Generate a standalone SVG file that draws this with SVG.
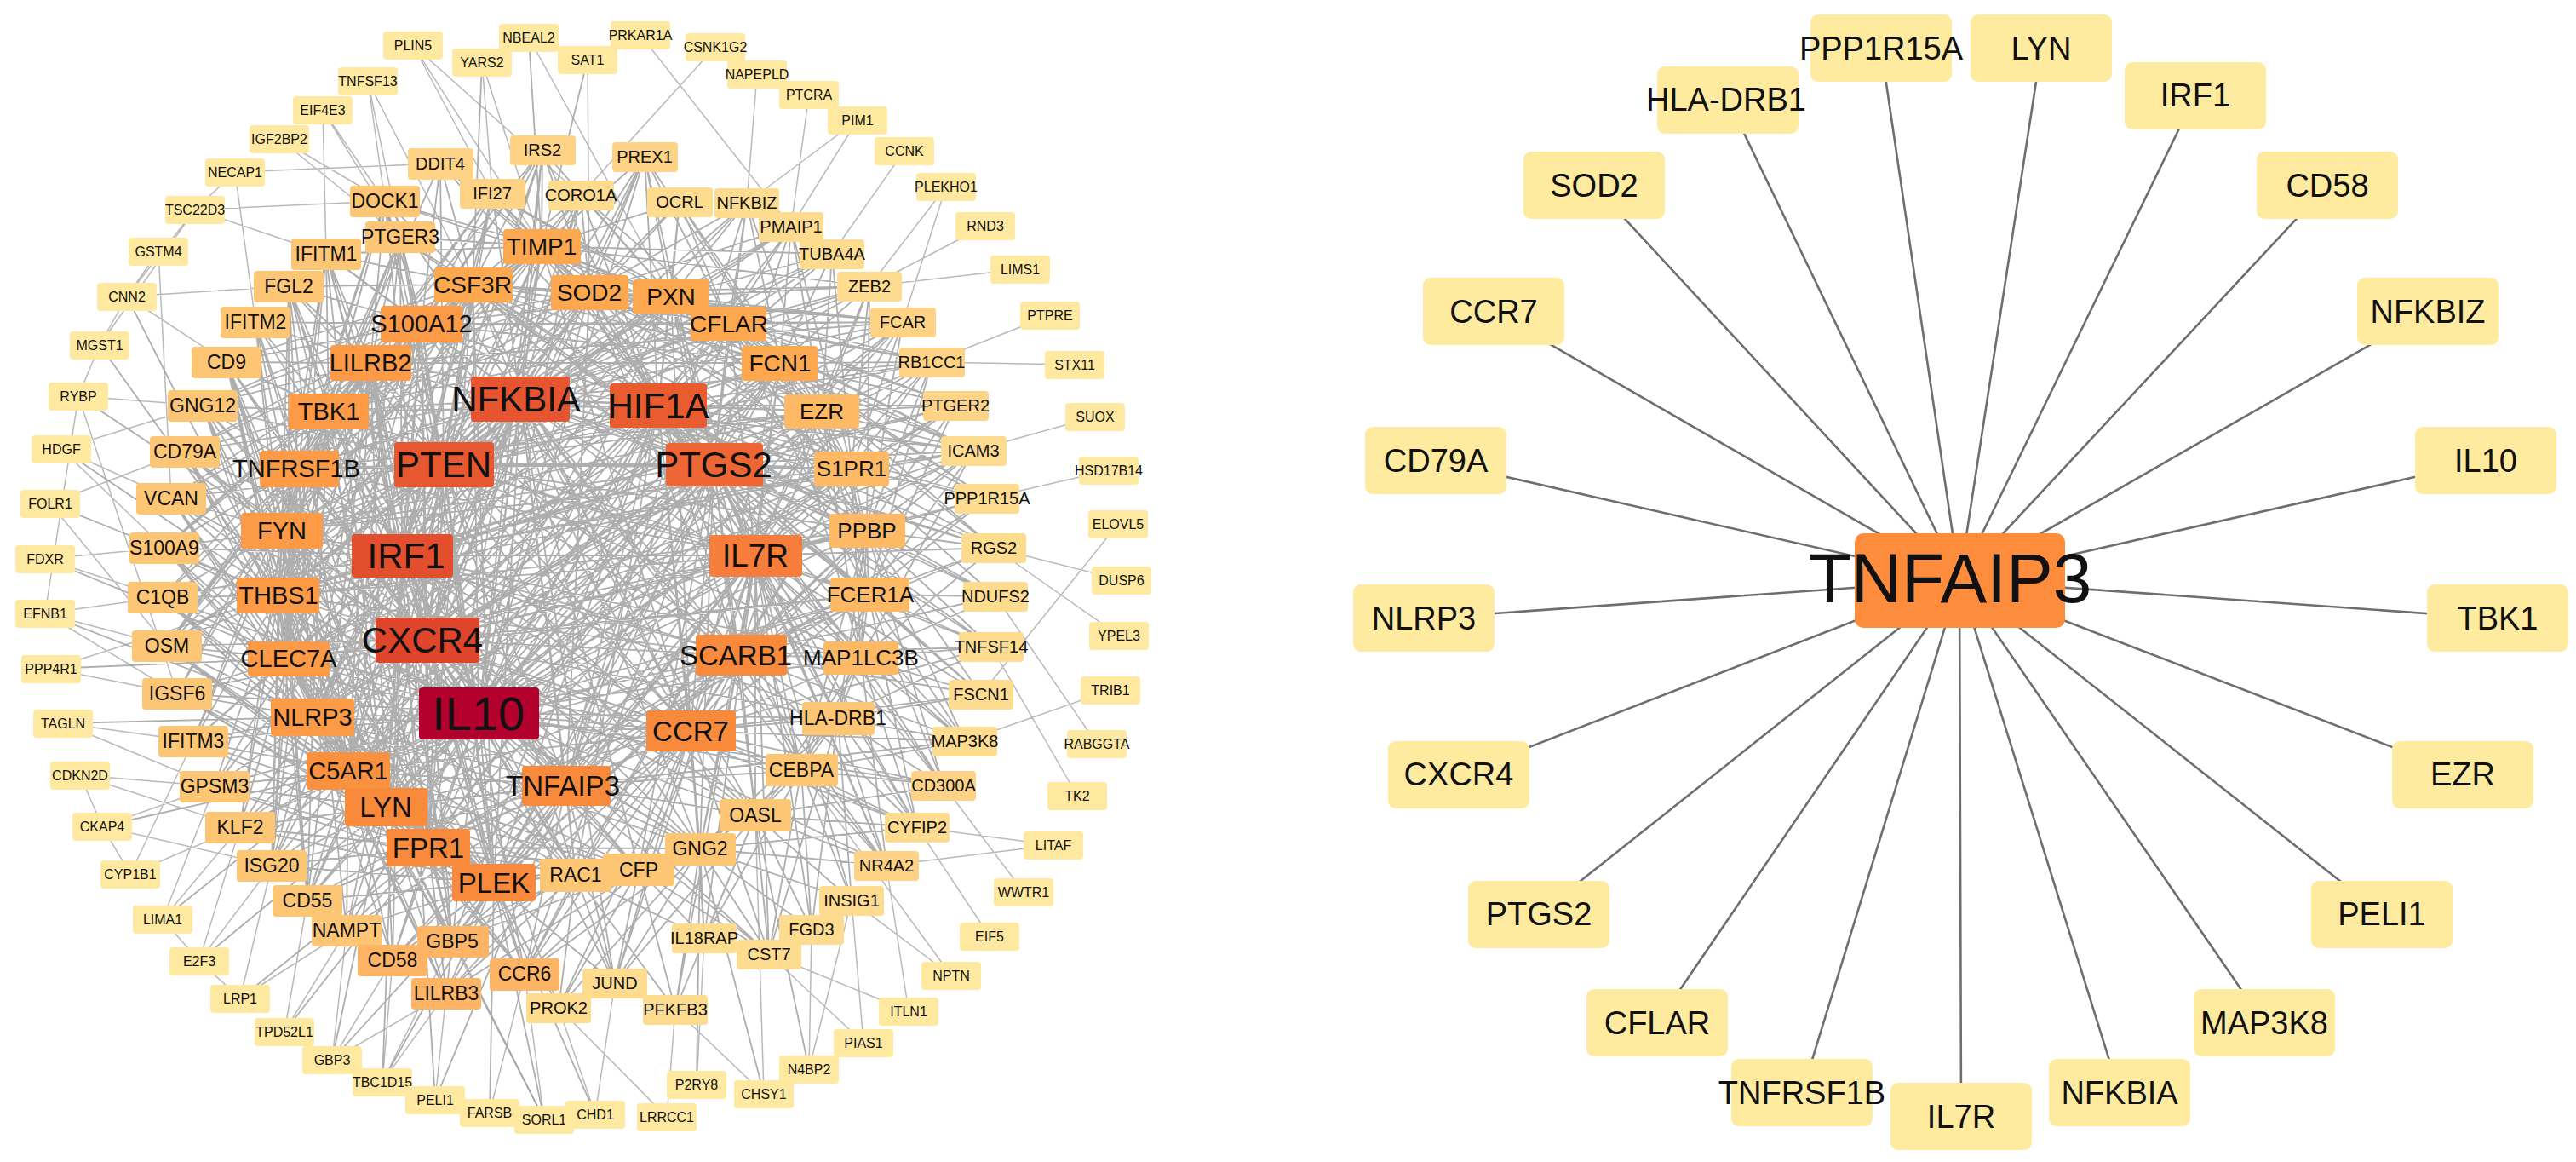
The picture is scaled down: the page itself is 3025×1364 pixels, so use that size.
<svg xmlns="http://www.w3.org/2000/svg" width="3025" height="1364" viewBox="0 0 3025 1364">
<style>
text{font-family:"Liberation Sans",Arial,sans-serif;text-anchor:middle;dominant-baseline:central;fill:#111}
rect{rx:4px}
.A rect{fill:#FFE9A0}.A text{font-size:16px}
.B rect{fill:#FEDC8F}.B text{font-size:20px}
.B2 rect{fill:#FED385}.B2 text{font-size:20px}
.C rect{fill:#FDC674}.C text{font-size:23px}
.C2 rect{fill:#FDB565}.C2 text{font-size:23px}
.D rect{fill:#FDA84F}.D text{font-size:28px}
.D2 rect{fill:#FDB964}.D2 text{font-size:26px}
.E rect{fill:#FC9A45}.E text{font-size:29px}
.F rect{fill:#F98A3C}.F text{font-size:33px}
.G text{font-size:42px}
.R rect{fill:#FEEBA0;rx:9px}.R text{font-size:38px}
.e1{fill:none;stroke:#9a9a9a;stroke-opacity:.8;stroke-width:1.8}
.e2{fill:none;stroke:#a8a8a8;stroke-opacity:.8;stroke-width:1.5}
.e3{fill:none;stroke:#6e6e6e;stroke-width:2.6}
</style>
<rect x="0" y="0" width="3025" height="1364" fill="#ffffff" style="rx:0"/>
<g id="connectors">
<path class="e2" d="M485 53L682 229M485 53L578 227M485 53L636 289M432 95L470 278M432 95L452 236M432 95L555 334M379 129L383 298M379 129L470 278M379 129L452 236M328 163L452 236M328 163L470 278M276 202L517 192M276 202L300 378M276 202L229 246M229 246L452 236M229 246L383 298M229 246L149 348M186 295L149 348M186 295L201 585M149 348L117 405M149 348L339 336M149 348L266 425M117 405L92 465M117 405L229 246M92 465L53 720M92 465L238 476M92 465L208 814M72 527L201 585M72 527L193 643M72 527L238 476M59 591L196 758M59 591L217 530M53 656L193 643M53 656L191 701M53 720L191 701M53 720L196 758M53 720L208 814M60 785L208 814M60 785L327 699M74 849L227 870M74 849L252 923M94 910L252 923M94 910L282 971M94 910L120 970M120 970L153 1026M120 970L319 1016M120 970L252 923M153 1026L282 971M153 1026L227 870M191 1079L234 1128M191 1079L282 971M191 1079L252 923M234 1128L282 1172M234 1128L319 1016M234 1128L282 971M282 1172L319 1016M282 1172L407 1092M334 1211L361 1057M334 1211L407 1092M390 1244L407 1092M390 1244L461 1127M390 1244L524 1166M449 1270L524 1166M449 1270L461 1127M449 1270L531 1105M511 1291L524 1166M575 1306L616 1143M639 1314L616 1143M639 1314L531 1105M699 1308L656 1183M699 1308L722 1154M783 1311L656 1183M783 1311L793 1185M818 1273L827 1101M897 1284L793 1185M897 1284L887 957M950 1255L953 1091M950 1255L1000 1057M1014 1224L1000 1057M1014 1224L903 1120M1067 1187L1041 1016M1067 1187L903 1120M1117 1145L1000 1057M1117 1145L941 904M1162 1099L1077 971M1202 1047L1108 922M1237 992L1077 971M1237 992L1041 1016M1265 934L1164 759M1288 873L1169 700M1304 810L1133 870M1314 746L1167 643M1317 681L1167 643M1313 615L1152 815M1302 552L1159 585M1286 489L1143 529M1262 428L1094 425M1233 370L1094 425M1198 316L1021 336M1157 265L1021 336M1111 219L1021 336M1111 219L1060 378M1062 177L977 298M1007 141L929 266M1007 141L877 238M950 111L929 266M889 87L877 238M840 55L682 229M752 41L929 266M690 70L692 343M621 44L788 348M566 73L578 227M566 73L636 289"/>
<path class="e1" d="M562 837L502 751M562 837L472 652M562 837L521 545M562 837L611 468M562 837L773 476M562 837L838 545M562 837L887 652M562 837L868 769M562 837L811 858M562 837L665 922M562 837L580 1036M562 837L503 995M562 837L453 947M562 837L409 905M562 837L367 842M562 837L339 773M562 837L327 699M562 837L331 623M562 837L350 550M562 837L386 483M562 837L435 426M562 837L495 380M562 837L555 334M562 837L636 289M562 837L692 343M562 837L788 348M562 837L856 380M562 837L916 426M562 837L965 483M562 837L1000 550M562 837L1018 623M562 837L1020 698M562 837L1011 772M562 837L984 843M562 837L941 904M562 837L887 957M562 837L822 996M562 837L750 1021M562 837L676 1027M562 837L616 1143M562 837L524 1166M562 837L531 1105M562 837L461 1127M562 837L407 1092M562 837L361 1057M562 837L319 1016M562 837L282 971M562 837L252 923M562 837L227 870M562 837L208 814M562 837L196 758M562 837L191 701M562 837L193 643M562 837L201 585M562 837L217 530M562 837L238 476M562 837L266 425M562 837L383 298M562 837L470 278M562 837L452 236M562 837L637 176M562 837L682 229M562 837L757 184M562 837L1143 529M562 837L1122 476M562 837L1094 425M562 837L1060 378M562 837L903 1120M562 837L722 1154M562 837L1108 922
M502 751L472 652M502 751L521 545M502 751L611 468M502 751L773 476M502 751L838 545M502 751L887 652M502 751L868 769M502 751L811 858M502 751L665 922M502 751L580 1036M502 751L503 995M502 751L453 947M502 751L409 905M502 751L367 842M502 751L339 773M502 751L327 699M502 751L331 623M502 751L350 550M502 751L386 483M502 751L435 426M502 751L495 380M502 751L555 334M502 751L636 289M502 751L692 343M502 751L788 348M502 751L856 380M502 751L916 426M502 751L965 483M502 751L1000 550M502 751L1018 623M502 751L1020 698M502 751L984 843M502 751L941 904M502 751L822 996M502 751L750 1021M502 751L676 1027M502 751L616 1143M502 751L531 1105M502 751L361 1057M502 751L282 971M502 751L208 814M502 751L196 758M502 751L201 585M502 751L217 530M502 751L238 476M502 751L266 425M502 751L383 298M502 751L452 236M502 751L757 184M502 751L682 229M502 751L1143 529M502 751L1094 425M502 751L903 1120M502 751L1041 1016M502 751L1077 971M502 751L887 957M502 751L656 1183
M472 652L521 545M472 652L611 468M472 652L773 476M472 652L838 545M472 652L887 652M472 652L868 769M472 652L811 858M472 652L665 922M472 652L580 1036M472 652L453 947M472 652L367 842M472 652L339 773M472 652L327 699M472 652L331 623M472 652L350 550M472 652L386 483M472 652L435 426M472 652L495 380M472 652L555 334M472 652L636 289M472 652L692 343M472 652L856 380M472 652L965 483M472 652L1000 550M472 652L1011 772M472 652L984 843M472 652L822 996M472 652L676 1027M472 652L531 1105M472 652L461 1127M472 652L319 1016M472 652L252 923M472 652L227 870M472 652L191 701M472 652L193 643M472 652L217 530M472 652L300 378M472 652L383 298M472 652L339 336M472 652L470 278M472 652L637 176M472 652L578 227M472 652L887 957M472 652L1122 476M472 652L1143 529M472 652L877 238M472 652L511 1291M472 652L449 1270
M521 545L611 468M521 545L773 476M521 545L838 545M521 545L887 652M521 545L868 769M521 545L811 858M521 545L665 922M521 545L580 1036M521 545L503 995M521 545L453 947M521 545L409 905M521 545L367 842M521 545L327 699M521 545L331 623M521 545L350 550M521 545L386 483M521 545L435 426M521 545L555 334M521 545L636 289M521 545L692 343M521 545L788 348M521 545L856 380M521 545L916 426M521 545L965 483M521 545L1000 550M521 545L1018 623M521 545L1020 698M521 545L1011 772M521 545L676 1027M521 545L822 996M521 545L361 1057M521 545L407 1092M521 545L196 758M521 545L201 585M521 545L266 425M521 545L238 476M521 545L452 236M521 545L470 278M521 545L637 176M521 545L757 184M521 545L578 227M521 545L517 192M521 545L682 229M521 545L798 237M521 545L1021 336M521 545L1094 425M521 545L929 266M521 545L977 298M521 545L339 336
M611 468L773 476M611 468L838 545M611 468L887 652M611 468L868 769M611 468L811 858M611 468L665 922M611 468L580 1036M611 468L453 947M611 468L409 905M611 468L367 842M611 468L339 773M611 468L327 699M611 468L331 623M611 468L350 550M611 468L386 483M611 468L495 380M611 468L555 334M611 468L636 289M611 468L692 343M611 468L788 348M611 468L856 380M611 468L965 483M611 468L1000 550M611 468L1018 623M611 468L1011 772M611 468L941 904M611 468L887 957M611 468L822 996M611 468L750 1021M611 468L676 1027M611 468L361 1057M611 468L319 1016M611 468L282 971M611 468L196 758M611 468L217 530M611 468L383 298M611 468L452 236M611 468L637 176M611 468L757 184M611 468L682 229M611 468L877 238M611 468L929 266M611 468L1143 529M611 468L1094 425M611 468L1060 378M611 468L1021 336M611 468L977 298M611 468L1167 643M611 468L1041 1016M611 468L722 1154M611 468L578 227
M773 476L838 545M773 476L887 652M773 476L868 769M773 476L811 858M773 476L665 922M773 476L580 1036M773 476L503 995M773 476L453 947M773 476L409 905M773 476L367 842M773 476L327 699M773 476L331 623M773 476L386 483M773 476L435 426M773 476L495 380M773 476L555 334M773 476L636 289M773 476L692 343M773 476L788 348M773 476L856 380M773 476L916 426M773 476L965 483M773 476L1000 550M773 476L1018 623M773 476L1020 698M773 476L1011 772M773 476L984 843M773 476L941 904M773 476L822 996M773 476L676 1027M773 476L407 1092M773 476L517 192M773 476L637 176M773 476L757 184M773 476L798 237M773 476L682 229M773 476L929 266M773 476L977 298M773 476L1021 336M773 476L1122 476M773 476L1143 529M773 476L1159 585M773 476L1167 643M773 476L1169 700M773 476L1164 759M773 476L1152 815M773 476L1133 870M773 476L1094 425M773 476L1060 378M773 476L531 1105
M838 545L887 652M838 545L868 769M838 545L811 858M838 545L665 922M838 545L580 1036M838 545L503 995M838 545L453 947M838 545L409 905M838 545L367 842M838 545L339 773M838 545L327 699M838 545L331 623M838 545L350 550M838 545L435 426M838 545L495 380M838 545L555 334M838 545L636 289M838 545L692 343M838 545L788 348M838 545L856 380M838 545L916 426M838 545L965 483M838 545L1000 550M838 545L1018 623M838 545L1020 698M838 545L1011 772M838 545L984 843M838 545L941 904M838 545L887 957M838 545L822 996M838 545L750 1021M838 545L616 1143M838 545L282 971M838 545L578 227M838 545L757 184M838 545L877 238M838 545L929 266M838 545L1122 476M838 545L1143 529M838 545L1167 643M838 545L1169 700M838 545L1164 759M838 545L1152 815M838 545L1041 1016M838 545L1077 971M838 545L1108 922M838 545L470 278
M887 652L868 769M887 652L811 858M887 652L665 922M887 652L580 1036M887 652L453 947M887 652L367 842M887 652L339 773M887 652L327 699M887 652L350 550M887 652L386 483M887 652L555 334M887 652L692 343M887 652L788 348M887 652L856 380M887 652L916 426M887 652L965 483M887 652L1000 550M887 652L1018 623M887 652L1020 698M887 652L1011 772M887 652L984 843M887 652L941 904M887 652L887 957M887 652L822 996M887 652L750 1021M887 652L676 1027M887 652L616 1143M887 652L531 1105M887 652L461 1127M887 652L903 1120M887 652L827 1101M887 652L953 1091M887 652L1000 1057M887 652L1041 1016M887 652L1077 971M887 652L1108 922M887 652L1133 870M887 652L1152 815M887 652L1164 759M887 652L1167 643M887 652L1159 585M887 652L1143 529M887 652L1122 476M887 652L1094 425M887 652L1060 378M887 652L1021 336M887 652L722 1154
M868 769L811 858M868 769L665 922M868 769L580 1036M868 769L503 995M868 769L409 905M868 769L327 699M868 769L331 623M868 769L435 426M868 769L495 380M868 769L692 343M868 769L788 348M868 769L916 426M868 769L965 483M868 769L1000 550M868 769L1018 623M868 769L1020 698M868 769L1011 772M868 769L984 843M868 769L941 904M868 769L887 957M868 769L822 996M868 769L750 1021M868 769L361 1057M868 769L1143 529M868 769L1167 643M868 769L1169 700M868 769L1164 759M868 769L1152 815M868 769L1133 870M868 769L1108 922M868 769L1077 971M868 769L1041 1016M868 769L903 1120M868 769L793 1185
M811 858L665 922M811 858L580 1036M811 858L503 995M811 858L453 947M811 858L409 905M811 858L367 842M811 858L339 773M811 858L350 550M811 858L435 426M811 858L495 380M811 858L555 334M811 858L636 289M811 858L788 348M811 858L916 426M811 858L1000 550M811 858L1018 623M811 858L1020 698M811 858L1011 772M811 858L984 843M811 858L941 904M811 858L887 957M811 858L822 996M811 858L750 1021M811 858L676 1027M811 858L616 1143M811 858L524 1166M811 858L531 1105M811 858L461 1127M811 858L827 1101M811 858L903 1120M811 858L722 1154M811 858L656 1183M811 858L1108 922M811 858L1133 870M811 858L1152 815M811 858L1164 759M811 858L1077 971
M665 922L580 1036M665 922L503 995M665 922L453 947M665 922L409 905M665 922L367 842M665 922L339 773M665 922L350 550M665 922L386 483M665 922L511 1291M665 922L1133 870M665 922L877 238M665 922L1159 585M665 922L461 1127M665 922L856 380M665 922L965 483M665 922L692 343M665 922L531 1105M665 922L676 1027M665 922L750 1021M665 922L822 996M665 922L616 1143M665 922L524 1166M665 922L407 1092M665 922L361 1057M665 922L319 1016M665 922L722 1154M665 922L887 957M665 922L941 904
M580 1036L503 995M580 1036L453 947M580 1036L409 905M580 1036L367 842M580 1036L339 773M580 1036L327 699M580 1036L331 623M580 1036L435 426M580 1036L495 380M580 1036L555 334M580 1036L916 426M580 1036L1018 623M580 1036L1020 698M580 1036L822 996M580 1036L750 1021M580 1036L676 1027M580 1036L616 1143M580 1036L524 1166M580 1036L531 1105M580 1036L461 1127M580 1036L407 1092M580 1036L361 1057M580 1036L319 1016M580 1036L282 971M580 1036L252 923M580 1036L227 870M580 1036L208 814M580 1036L196 758M580 1036L191 701M580 1036L193 643M580 1036L339 336M580 1036L656 1183M580 1036L722 1154M580 1036L575 1306M580 1036L639 1314M580 1036L449 1270M580 1036L390 1244M580 1036L699 1308
M503 995L453 947M503 995L409 905M503 995L367 842M503 995L339 773M503 995L327 699M503 995L331 623M503 995L435 426M503 995L495 380M503 995L555 334M503 995L636 289M503 995L916 426M503 995L1020 698M503 995L822 996M503 995L750 1021M503 995L676 1027M503 995L616 1143M503 995L524 1166M503 995L531 1105M503 995L461 1127M503 995L407 1092M503 995L361 1057M503 995L319 1016M503 995L282 971M503 995L252 923M503 995L208 814M503 995L196 758M503 995L191 701M503 995L193 643M503 995L201 585M503 995L266 425M503 995L339 336M503 995L300 378M503 995L1060 378M503 995L334 1211M503 995L282 1172
M453 947L409 905M453 947L367 842M453 947L339 773M453 947L327 699M453 947L331 623M453 947L350 550M453 947L386 483M453 947L435 426M453 947L495 380M453 947L555 334M453 947L916 426M453 947L1020 698M453 947L217 530M453 947L750 1021M453 947L676 1027M453 947L616 1143M453 947L524 1166M453 947L531 1105M453 947L461 1127M453 947L407 1092M453 947L361 1057M453 947L319 1016M453 947L282 971M453 947L252 923M453 947L227 870M453 947L208 814M453 947L196 758M453 947L191 701M453 947L201 585M453 947L266 425M453 947L238 476M453 947L788 348M453 947L383 298M453 947L234 1128M453 947L390 1244M453 947L639 1314
M409 905L367 842M409 905L339 773M409 905L327 699M409 905L331 623M409 905L435 426M409 905L495 380M409 905L555 334M409 905L916 426M409 905L1020 698M409 905L750 1021M409 905L616 1143M409 905L524 1166M409 905L531 1105M409 905L461 1127M409 905L407 1092M409 905L361 1057M409 905L319 1016M409 905L282 971M409 905L252 923M409 905L227 870M409 905L208 814M409 905L196 758M409 905L191 701M409 905L193 643M409 905L201 585M409 905L266 425M409 905L339 336M409 905L300 378M409 905L1060 378M409 905L1122 476M409 905L470 278M409 905L191 1079M409 905L120 970
M367 842L339 773M367 842L327 699M367 842L331 623M367 842L350 550M367 842L386 483M367 842L435 426M367 842L495 380M367 842L555 334M367 842L636 289M367 842L692 343M367 842L916 426M367 842L750 1021M367 842L676 1027M367 842L524 1166M367 842L361 1057M367 842L319 1016M367 842L282 971M367 842L252 923M367 842L227 870M367 842L208 814M367 842L196 758M367 842L191 701M367 842L193 643M367 842L266 425M367 842L788 348M367 842L822 996M367 842L461 1127M367 842L53 720M367 842L74 849
M339 773L327 699M339 773L331 623M339 773L350 550M339 773L386 483M339 773L435 426M339 773L495 380M339 773L555 334M339 773L916 426M339 773L1020 698M339 773L524 1166M339 773L531 1105M339 773L361 1057M339 773L319 1016M339 773L282 971M339 773L252 923M339 773L227 870M339 773L208 814M339 773L196 758M339 773L191 701M339 773L193 643M339 773L201 585M339 773L266 425M339 773L238 476M339 773L217 530M339 773L339 336M339 773L300 378M339 773L383 298M339 773L1060 378M339 773L60 785M339 773L53 656
M327 699L331 623M327 699L350 550M327 699L386 483M327 699L435 426M327 699L495 380M327 699L555 334M327 699L636 289M327 699L692 343M327 699L788 348M327 699L965 483M327 699L1000 550M327 699L1018 623M327 699L822 996M327 699L676 1027M327 699L361 1057M327 699L319 1016M327 699L282 971M327 699L252 923M327 699L227 870M327 699L196 758M327 699L191 701M327 699L193 643M327 699L201 585M327 699L266 425M327 699L238 476M327 699L217 530M327 699L452 236M327 699L470 278M327 699L149 348M327 699L117 405M327 699L72 527M327 699L59 591
M331 623L350 550M331 623L386 483M331 623L435 426M331 623L495 380M331 623L555 334M331 623L636 289M331 623L788 348M331 623L965 483M331 623L1000 550M331 623L676 1027M331 623L361 1057M331 623L319 1016M331 623L282 971M331 623L227 870M331 623L196 758M331 623L191 701M331 623L193 643M331 623L201 585M331 623L266 425M331 623L238 476M331 623L217 530M331 623L300 378M331 623L383 298M331 623L339 336M331 623L452 236M331 623L470 278M331 623L637 176M331 623L682 229M331 623L92 465
M350 550L386 483M350 550L435 426M350 550L495 380M350 550L555 334M350 550L636 289M350 550L692 343M350 550L856 380M350 550L965 483M350 550L238 476M350 550L217 530M350 550L201 585M350 550L193 643M350 550L191 701M350 550L196 758M350 550L208 814M350 550L227 870M350 550L266 425M350 550L300 378M350 550L383 298M350 550L339 336M350 550L470 278M350 550L452 236M350 550L319 1016M350 550L407 1092
M386 483L435 426M386 483L495 380M386 483L555 334M386 483L636 289M386 483L692 343M386 483L788 348M386 483L856 380M386 483L578 227M386 483L637 176M386 483L517 192M386 483L452 236M386 483L470 278M386 483L383 298M386 483L339 336M386 483L300 378M386 483L266 425M386 483L238 476M386 483L217 530M386 483L201 585M386 483L193 643M386 483L191 701M386 483L196 758M386 483L319 1016M386 483L887 957M386 483L531 1105
M435 426L495 380M435 426L555 334M435 426L636 289M435 426L692 343M435 426L916 426M435 426L578 227M435 426L452 236M435 426L470 278M435 426L383 298M435 426L339 336M435 426L300 378M435 426L266 425M435 426L238 476M435 426L217 530M435 426L201 585M435 426L193 643M435 426L196 758M435 426L208 814M435 426L524 1166M435 426L1060 378M435 426L361 1057M435 426L531 1105
M495 380L555 334M495 380L636 289M495 380L692 343M495 380L788 348M495 380L856 380M495 380L916 426M495 380L578 227M495 380L637 176M495 380L517 192M495 380L452 236M495 380L470 278M495 380L383 298M495 380L339 336M495 380L300 378M495 380L266 425M495 380L238 476M495 380L193 643M495 380L217 530M495 380L1060 378M495 380L196 758
M555 334L636 289M555 334L692 343M555 334L788 348M555 334L856 380M555 334L916 426M555 334L578 227M555 334L637 176M555 334L682 229M555 334L517 192M555 334L452 236M555 334L470 278M555 334L383 298M555 334L339 336M555 334L266 425M555 334L238 476M555 334L1060 378M555 334L1020 698M555 334L1018 623M555 334L1000 550M555 334L965 483M555 334L566 73
M636 289L692 343M636 289L788 348M636 289L856 380M636 289L916 426M636 289L578 227M636 289L637 176M636 289L682 229M636 289L757 184M636 289L798 237M636 289L517 192M636 289L452 236M636 289L470 278M636 289L383 298M636 289L965 483M636 289L1000 550M636 289L1021 336M636 289L977 298M636 289L621 44M636 289L690 70
M692 343L788 348M692 343L856 380M692 343L916 426M692 343L578 227M692 343L637 176M692 343L682 229M692 343L757 184M692 343L798 237M692 343L877 238M692 343L929 266M692 343L517 192M692 343L965 483M692 343L1000 550M692 343L1018 623M692 343L1021 336M692 343L1060 378M692 343L1094 425M692 343L1143 529
M788 348L856 380M788 348L916 426M788 348L637 176M788 348L682 229M788 348L757 184M788 348L798 237M788 348L877 238M788 348L929 266M788 348L977 298M788 348L1021 336M788 348L965 483M788 348L1000 550M788 348L1018 623M788 348L1060 378M788 348L1094 425M788 348L1143 529M788 348L1122 476M788 348L452 236M788 348L578 227
M856 380L916 426M856 380L757 184M856 380L798 237M856 380L877 238M856 380L929 266M856 380L977 298M856 380L1021 336M856 380L965 483M856 380L1000 550M856 380L1018 623M856 380L1020 698M856 380L1060 378M856 380L1094 425M856 380L1143 529M856 380L1122 476M856 380L1159 585M856 380L682 229M856 380L578 227
M916 426L757 184M916 426L798 237M916 426L877 238M916 426L929 266M916 426L977 298M916 426L1021 336M916 426L965 483M916 426L1000 550M916 426L1018 623M916 426L1020 698M916 426L1060 378M916 426L1094 425M916 426L1143 529M916 426L1122 476M916 426L1159 585M916 426L1167 643M916 426L1011 772
M965 483L1000 550M965 483L1018 623M965 483L1020 698M965 483L1011 772M965 483L1021 336M965 483L1060 378M965 483L1094 425M965 483L1143 529M965 483L1122 476M965 483L1159 585M965 483L1167 643M965 483L877 238M965 483L929 266M965 483L977 298M965 483L798 237
M1000 550L1018 623M1000 550L1020 698M1000 550L1011 772M1000 550L1060 378M1000 550L1094 425M1000 550L1143 529M1000 550L1122 476M1000 550L1159 585M1000 550L1167 643M1000 550L1169 700M1000 550L1021 336M1000 550L977 298M1000 550L929 266
M1018 623L1020 698M1018 623L1011 772M1018 623L984 843M1018 623L1143 529M1018 623L1122 476M1018 623L1159 585M1018 623L1167 643M1018 623L1169 700M1018 623L1164 759M1018 623L1152 815M1018 623L1133 870M1018 623L1094 425M1018 623L1060 378M1018 623L1021 336M1018 623L941 904M1018 623L1108 922
M1020 698L1011 772M1020 698L984 843M1020 698L1143 529M1020 698L1159 585M1020 698L1167 643M1020 698L1169 700M1020 698L1164 759M1020 698L1152 815M1020 698L1133 870M1020 698L1108 922M1020 698L1077 971M1020 698L941 904M1020 698L1122 476M1020 698L1094 425
M1011 772L984 843M1011 772L1167 643M1011 772L1169 700M1011 772L1164 759M1011 772L1152 815M1011 772L1133 870M1011 772L1108 922M1011 772L1077 971M1011 772L1041 1016M1011 772L941 904M1011 772L887 957M1011 772L1143 529
M984 843L941 904M984 843L887 957M984 843L822 996M984 843L1133 870M984 843L1108 922M984 843L1077 971M984 843L1041 1016M984 843L1000 1057M984 843L1152 815M984 843L1164 759M984 843L903 1120M984 843L953 1091
M941 904L887 957M941 904L822 996M941 904L1108 922M941 904L1077 971M941 904L1041 1016M941 904L1000 1057M941 904L953 1091M941 904L903 1120M941 904L827 1101M941 904L1133 870
M887 957L822 996M887 957L750 1021M887 957L1108 922M887 957L1077 971M887 957L1041 1016M887 957L1000 1057M887 957L953 1091M887 957L903 1120M887 957L827 1101M887 957L793 1185M887 957L722 1154M887 957L950 1255
M822 996L750 1021M822 996L676 1027M822 996L616 1143M822 996L1077 971M822 996L1041 1016M822 996L1000 1057M822 996L953 1091M822 996L903 1120M822 996L827 1101M822 996L793 1185M822 996L722 1154M822 996L656 1183M822 996L818 1273M822 996L897 1284
M750 1021L676 1027M750 1021L616 1143M750 1021L722 1154M750 1021L656 1183M750 1021L793 1185M750 1021L827 1101M750 1021L903 1120M750 1021L531 1105M750 1021L524 1166
M676 1027L616 1143M676 1027L531 1105M676 1027L524 1166M676 1027L461 1127M676 1027L722 1154M676 1027L656 1183M676 1027L793 1185M676 1027L827 1101"/>
<path class="e3" d="M2301 681L2209 57M2301 681L2397 57M2301 681L2029 117M2301 681L2578 112M2301 681L1872 218M2301 681L2733 218M2301 681L1754 366M2301 681L2851 366M2301 681L1686 541M2301 681L2919 541M2301 681L1672 726M2301 681L2933 726M2301 681L1713 909M2301 681L2892 909M2301 681L1807 1073M2301 681L2797 1073M2301 681L1946 1201M2301 681L2659 1201M2301 681L2116 1283M2301 681L2489 1283M2301 681L2303 1311"/>
</g>
<g id="nodes-left">
<g id="n-PLIN5" class="A"><rect x="450" y="37" width="70" height="33"/><text x="485" y="53">PLIN5</text></g>
<g id="n-TNFSF13" class="A"><rect x="397" y="79" width="70" height="33"/><text x="432" y="95">TNFSF13</text></g>
<g id="n-EIF4E3" class="A"><rect x="344" y="113" width="70" height="33"/><text x="379" y="129">EIF4E3</text></g>
<g id="n-IGF2BP2" class="A"><rect x="293" y="147" width="70" height="33"/><text x="328" y="163">IGF2BP2</text></g>
<g id="n-NECAP1" class="A"><rect x="241" y="186" width="70" height="33"/><text x="276" y="202">NECAP1</text></g>
<g id="n-TSC22D3" class="A"><rect x="194" y="230" width="70" height="33"/><text x="229" y="246">TSC22D3</text></g>
<g id="n-GSTM4" class="A"><rect x="151" y="279" width="70" height="33"/><text x="186" y="295">GSTM4</text></g>
<g id="n-CNN2" class="A"><rect x="114" y="332" width="70" height="33"/><text x="149" y="348">CNN2</text></g>
<g id="n-MGST1" class="A"><rect x="82" y="389" width="70" height="33"/><text x="117" y="405">MGST1</text></g>
<g id="n-RYBP" class="A"><rect x="57" y="449" width="70" height="33"/><text x="92" y="465">RYBP</text></g>
<g id="n-HDGF" class="A"><rect x="37" y="511" width="70" height="33"/><text x="72" y="527">HDGF</text></g>
<g id="n-FOLR1" class="A"><rect x="24" y="575" width="70" height="33"/><text x="59" y="591">FOLR1</text></g>
<g id="n-FDXR" class="A"><rect x="18" y="640" width="70" height="33"/><text x="53" y="656">FDXR</text></g>
<g id="n-EFNB1" class="A"><rect x="18" y="704" width="70" height="33"/><text x="53" y="720">EFNB1</text></g>
<g id="n-PPP4R1" class="A"><rect x="25" y="769" width="70" height="33"/><text x="60" y="785">PPP4R1</text></g>
<g id="n-TAGLN" class="A"><rect x="39" y="833" width="70" height="33"/><text x="74" y="849">TAGLN</text></g>
<g id="n-CDKN2D" class="A"><rect x="59" y="894" width="70" height="33"/><text x="94" y="910">CDKN2D</text></g>
<g id="n-CKAP4" class="A"><rect x="85" y="954" width="70" height="33"/><text x="120" y="970">CKAP4</text></g>
<g id="n-CYP1B1" class="A"><rect x="118" y="1010" width="70" height="33"/><text x="153" y="1026">CYP1B1</text></g>
<g id="n-LIMA1" class="A"><rect x="156" y="1063" width="70" height="33"/><text x="191" y="1079">LIMA1</text></g>
<g id="n-E2F3" class="A"><rect x="199" y="1112" width="70" height="33"/><text x="234" y="1128">E2F3</text></g>
<g id="n-LRP1" class="A"><rect x="247" y="1156" width="70" height="33"/><text x="282" y="1172">LRP1</text></g>
<g id="n-TPD52L1" class="A"><rect x="299" y="1195" width="70" height="33"/><text x="334" y="1211">TPD52L1</text></g>
<g id="n-GBP3" class="A"><rect x="355" y="1228" width="70" height="33"/><text x="390" y="1244">GBP3</text></g>
<g id="n-TBC1D15" class="A"><rect x="414" y="1254" width="70" height="33"/><text x="449" y="1270">TBC1D15</text></g>
<g id="n-PELI1" class="A"><rect x="476" y="1275" width="70" height="33"/><text x="511" y="1291">PELI1</text></g>
<g id="n-FARSB" class="A"><rect x="540" y="1290" width="70" height="33"/><text x="575" y="1306">FARSB</text></g>
<g id="n-SORL1" class="A"><rect x="604" y="1298" width="70" height="33"/><text x="639" y="1314">SORL1</text></g>
<g id="n-CHD1" class="A"><rect x="664" y="1292" width="70" height="33"/><text x="699" y="1308">CHD1</text></g>
<g id="n-LRRCC1" class="A"><rect x="748" y="1295" width="70" height="33"/><text x="783" y="1311">LRRCC1</text></g>
<g id="n-P2RY8" class="A"><rect x="783" y="1257" width="70" height="33"/><text x="818" y="1273">P2RY8</text></g>
<g id="n-CHSY1" class="A"><rect x="862" y="1268" width="70" height="33"/><text x="897" y="1284">CHSY1</text></g>
<g id="n-N4BP2" class="A"><rect x="915" y="1239" width="70" height="33"/><text x="950" y="1255">N4BP2</text></g>
<g id="n-PIAS1" class="A"><rect x="979" y="1208" width="70" height="33"/><text x="1014" y="1224">PIAS1</text></g>
<g id="n-ITLN1" class="A"><rect x="1032" y="1171" width="70" height="33"/><text x="1067" y="1187">ITLN1</text></g>
<g id="n-NPTN" class="A"><rect x="1082" y="1129" width="70" height="33"/><text x="1117" y="1145">NPTN</text></g>
<g id="n-EIF5" class="A"><rect x="1127" y="1083" width="70" height="33"/><text x="1162" y="1099">EIF5</text></g>
<g id="n-WWTR1" class="A"><rect x="1167" y="1031" width="70" height="33"/><text x="1202" y="1047">WWTR1</text></g>
<g id="n-LITAF" class="A"><rect x="1202" y="976" width="70" height="33"/><text x="1237" y="992">LITAF</text></g>
<g id="n-TK2" class="A"><rect x="1230" y="918" width="70" height="33"/><text x="1265" y="934">TK2</text></g>
<g id="n-RABGGTA" class="A"><rect x="1253" y="857" width="70" height="33"/><text x="1288" y="873">RABGGTA</text></g>
<g id="n-TRIB1" class="A"><rect x="1269" y="794" width="70" height="33"/><text x="1304" y="810">TRIB1</text></g>
<g id="n-YPEL3" class="A"><rect x="1279" y="730" width="70" height="33"/><text x="1314" y="746">YPEL3</text></g>
<g id="n-DUSP6" class="A"><rect x="1282" y="665" width="70" height="33"/><text x="1317" y="681">DUSP6</text></g>
<g id="n-ELOVL5" class="A"><rect x="1278" y="599" width="70" height="33"/><text x="1313" y="615">ELOVL5</text></g>
<g id="n-HSD17B14" class="A"><rect x="1267" y="536" width="70" height="33"/><text x="1302" y="552">HSD17B14</text></g>
<g id="n-SUOX" class="A"><rect x="1251" y="473" width="70" height="33"/><text x="1286" y="489">SUOX</text></g>
<g id="n-STX11" class="A"><rect x="1227" y="412" width="70" height="33"/><text x="1262" y="428">STX11</text></g>
<g id="n-PTPRE" class="A"><rect x="1198" y="354" width="70" height="33"/><text x="1233" y="370">PTPRE</text></g>
<g id="n-LIMS1" class="A"><rect x="1163" y="300" width="70" height="33"/><text x="1198" y="316">LIMS1</text></g>
<g id="n-RND3" class="A"><rect x="1122" y="249" width="70" height="33"/><text x="1157" y="265">RND3</text></g>
<g id="n-PLEKHO1" class="A"><rect x="1076" y="203" width="70" height="33"/><text x="1111" y="219">PLEKHO1</text></g>
<g id="n-CCNK" class="A"><rect x="1027" y="161" width="70" height="33"/><text x="1062" y="177">CCNK</text></g>
<g id="n-PIM1" class="A"><rect x="972" y="125" width="70" height="33"/><text x="1007" y="141">PIM1</text></g>
<g id="n-PTCRA" class="A"><rect x="915" y="95" width="70" height="33"/><text x="950" y="111">PTCRA</text></g>
<g id="n-NAPEPLD" class="A"><rect x="854" y="71" width="70" height="33"/><text x="889" y="87">NAPEPLD</text></g>
<g id="n-CSNK1G2" class="A"><rect x="805" y="39" width="70" height="33"/><text x="840" y="55">CSNK1G2</text></g>
<g id="n-PRKAR1A" class="A"><rect x="717" y="25" width="70" height="33"/><text x="752" y="41">PRKAR1A</text></g>
<g id="n-SAT1" class="A"><rect x="655" y="54" width="70" height="33"/><text x="690" y="70">SAT1</text></g>
<g id="n-NBEAL2" class="A"><rect x="586" y="28" width="70" height="33"/><text x="621" y="44">NBEAL2</text></g>
<g id="n-YARS2" class="A"><rect x="531" y="57" width="70" height="33"/><text x="566" y="73">YARS2</text></g>
<g id="n-DDIT4" class="B2"><rect x="479" y="174" width="77" height="37"/><text x="517" y="192">DDIT4</text></g>
<g id="n-IFI27" class="B2"><rect x="540" y="210" width="77" height="35"/><text x="578" y="227">IFI27</text></g>
<g id="n-IRS2" class="B2"><rect x="599" y="159" width="77" height="35"/><text x="637" y="176">IRS2</text></g>
<g id="n-CORO1A" class="B"><rect x="644" y="212" width="77" height="35"/><text x="682" y="229">CORO1A</text></g>
<g id="n-PREX1" class="B2"><rect x="719" y="167" width="77" height="35"/><text x="757" y="184">PREX1</text></g>
<g id="n-OCRL" class="B"><rect x="760" y="220" width="77" height="35"/><text x="798" y="237">OCRL</text></g>
<g id="n-NFKBIZ" class="B"><rect x="839" y="221" width="76" height="35"/><text x="877" y="238">NFKBIZ</text></g>
<g id="n-PMAIP1" class="B"><rect x="891" y="249" width="76" height="35"/><text x="929" y="266">PMAIP1</text></g>
<g id="n-TUBA4A" class="B"><rect x="939" y="281" width="76" height="35"/><text x="977" y="298">TUBA4A</text></g>
<g id="n-ZEB2" class="B"><rect x="983" y="319" width="76" height="35"/><text x="1021" y="336">ZEB2</text></g>
<g id="n-FCAR" class="B2"><rect x="1022" y="361" width="77" height="35"/><text x="1060" y="378">FCAR</text></g>
<g id="n-RB1CC1" class="B2"><rect x="1056" y="408" width="77" height="35"/><text x="1094" y="425">RB1CC1</text></g>
<g id="n-PTGER2" class="B2"><rect x="1084" y="459" width="77" height="35"/><text x="1122" y="476">PTGER2</text></g>
<g id="n-ICAM3" class="B"><rect x="1105" y="512" width="77" height="35"/><text x="1143" y="529">ICAM3</text></g>
<g id="n-PPP1R15A" class="B"><rect x="1121" y="568" width="76" height="35"/><text x="1159" y="585">PPP1R15A</text></g>
<g id="n-RGS2" class="B"><rect x="1129" y="626" width="76" height="35"/><text x="1167" y="643">RGS2</text></g>
<g id="n-NDUFS2" class="B"><rect x="1131" y="683" width="76" height="35"/><text x="1169" y="700">NDUFS2</text></g>
<g id="n-TNFSF14" class="B"><rect x="1126" y="742" width="76" height="35"/><text x="1164" y="759">TNFSF14</text></g>
<g id="n-FSCN1" class="B"><rect x="1114" y="798" width="76" height="35"/><text x="1152" y="815">FSCN1</text></g>
<g id="n-MAP3K8" class="B"><rect x="1095" y="853" width="76" height="35"/><text x="1133" y="870">MAP3K8</text></g>
<g id="n-CD300A" class="B2"><rect x="1070" y="905" width="76" height="35"/><text x="1108" y="922">CD300A</text></g>
<g id="n-CYFIP2" class="B"><rect x="1039" y="954" width="76" height="35"/><text x="1077" y="971">CYFIP2</text></g>
<g id="n-NR4A2" class="B2"><rect x="1003" y="999" width="76" height="35"/><text x="1041" y="1016">NR4A2</text></g>
<g id="n-INSIG1" class="B"><rect x="962" y="1040" width="76" height="35"/><text x="1000" y="1057">INSIG1</text></g>
<g id="n-FGD3" class="B"><rect x="915" y="1074" width="76" height="35"/><text x="953" y="1091">FGD3</text></g>
<g id="n-CST7" class="B"><rect x="865" y="1103" width="76" height="35"/><text x="903" y="1120">CST7</text></g>
<g id="n-IL18RAP" class="B"><rect x="789" y="1084" width="76" height="35"/><text x="827" y="1101">IL18RAP</text></g>
<g id="n-PFKFB3" class="B"><rect x="755" y="1168" width="76" height="35"/><text x="793" y="1185">PFKFB3</text></g>
<g id="n-JUND" class="B"><rect x="684" y="1137" width="76" height="35"/><text x="722" y="1154">JUND</text></g>
<g id="n-PROK2" class="B"><rect x="618" y="1166" width="76" height="35"/><text x="656" y="1183">PROK2</text></g>
<g id="n-DOCK1" class="C"><rect x="411" y="218" width="82" height="37"/><text x="452" y="236">DOCK1</text></g>
<g id="n-PTGER3" class="C"><rect x="429" y="260" width="82" height="37"/><text x="470" y="278">PTGER3</text></g>
<g id="n-IFITM1" class="C"><rect x="342" y="280" width="82" height="37"/><text x="383" y="298">IFITM1</text></g>
<g id="n-FGL2" class="C"><rect x="298" y="318" width="82" height="37"/><text x="339" y="336">FGL2</text></g>
<g id="n-IFITM2" class="C"><rect x="259" y="360" width="82" height="37"/><text x="300" y="378">IFITM2</text></g>
<g id="n-CD9" class="C"><rect x="225" y="407" width="82" height="37"/><text x="266" y="425">CD9</text></g>
<g id="n-GNG12" class="C"><rect x="197" y="458" width="82" height="37"/><text x="238" y="476">GNG12</text></g>
<g id="n-CD79A" class="C"><rect x="176" y="512" width="82" height="37"/><text x="217" y="530">CD79A</text></g>
<g id="n-VCAN" class="C"><rect x="160" y="567" width="82" height="37"/><text x="201" y="585">VCAN</text></g>
<g id="n-S100A9" class="C"><rect x="152" y="625" width="82" height="37"/><text x="193" y="643">S100A9</text></g>
<g id="n-C1QB" class="C"><rect x="150" y="683" width="82" height="37"/><text x="191" y="701">C1QB</text></g>
<g id="n-OSM" class="C"><rect x="155" y="740" width="82" height="37"/><text x="196" y="758">OSM</text></g>
<g id="n-IGSF6" class="C"><rect x="167" y="796" width="82" height="37"/><text x="208" y="814">IGSF6</text></g>
<g id="n-IFITM3" class="C"><rect x="186" y="852" width="82" height="37"/><text x="227" y="870">IFITM3</text></g>
<g id="n-GPSM3" class="C"><rect x="211" y="905" width="82" height="37"/><text x="252" y="923">GPSM3</text></g>
<g id="n-KLF2" class="C"><rect x="241" y="953" width="82" height="37"/><text x="282" y="971">KLF2</text></g>
<g id="n-ISG20" class="C"><rect x="278" y="998" width="82" height="37"/><text x="319" y="1016">ISG20</text></g>
<g id="n-CD55" class="C"><rect x="320" y="1039" width="82" height="37"/><text x="361" y="1057">CD55</text></g>
<g id="n-NAMPT" class="C"><rect x="366" y="1074" width="82" height="37"/><text x="407" y="1092">NAMPT</text></g>
<g id="n-CD58" class="C2"><rect x="420" y="1109" width="82" height="37"/><text x="461" y="1127">CD58</text></g>
<g id="n-GBP5" class="C2"><rect x="490" y="1087" width="84" height="37"/><text x="531" y="1105">GBP5</text></g>
<g id="n-LILRB3" class="C2"><rect x="483" y="1148" width="82" height="37"/><text x="524" y="1166">LILRB3</text></g>
<g id="n-CCR6" class="C2"><rect x="575" y="1125" width="82" height="38"/><text x="616" y="1143">CCR6</text></g>
<g id="n-RAC1" class="C"><rect x="634" y="1008" width="84" height="39"/><text x="676" y="1027">RAC1</text></g>
<g id="n-CFP" class="C"><rect x="708" y="1002" width="84" height="38"/><text x="750" y="1021">CFP</text></g>
<g id="n-GNG2" class="C"><rect x="781" y="978" width="83" height="38"/><text x="822" y="996">GNG2</text></g>
<g id="n-OASL" class="C"><rect x="845" y="938" width="84" height="38"/><text x="887" y="957">OASL</text></g>
<g id="n-CEBPA" class="C"><rect x="899" y="885" width="85" height="38"/><text x="941" y="904">CEBPA</text></g>
<g id="n-HLA-DRB1" class="C"><rect x="942" y="824" width="85" height="39"/><text x="984" y="843">HLA-DRB1</text></g>
<g id="n-CSF3R" class="D"><rect x="510" y="314" width="92" height="41"/><text x="555" y="334">CSF3R</text></g>
<g id="n-TIMP1" class="D"><rect x="591" y="269" width="91" height="41"/><text x="636" y="289">TIMP1</text></g>
<g id="n-SOD2" class="D"><rect x="647" y="323" width="91" height="41"/><text x="692" y="343">SOD2</text></g>
<g id="n-PXN" class="D"><rect x="743" y="328" width="89" height="40"/><text x="788" y="348">PXN</text></g>
<g id="n-CFLAR" class="D"><rect x="811" y="360" width="89" height="40"/><text x="856" y="380">CFLAR</text></g>
<g id="n-FCN1" class="D"><rect x="871" y="406" width="89" height="41"/><text x="916" y="426">FCN1</text></g>
<g id="n-EZR" class="D2"><rect x="921" y="463" width="88" height="40"/><text x="965" y="483">EZR</text></g>
<g id="n-S1PR1" class="D2"><rect x="956" y="530" width="88" height="41"/><text x="1000" y="550">S1PR1</text></g>
<g id="n-PPBP" class="D2"><rect x="974" y="603" width="89" height="40"/><text x="1018" y="623">PPBP</text></g>
<g id="n-FCER1A" class="D2"><rect x="975" y="678" width="93" height="40"/><text x="1022" y="698">FCER1A</text></g>
<g id="n-MAP1LC3B" class="D2"><rect x="967" y="753" width="88" height="39"/><text x="1011" y="772">MAP1LC3B</text></g>
<g id="n-S100A12" class="E"><rect x="447" y="359" width="96" height="43"/><text x="495" y="380">S100A12</text></g>
<g id="n-LILRB2" class="E"><rect x="388" y="405" width="95" height="42"/><text x="435" y="426">LILRB2</text></g>
<g id="n-TBK1" class="E"><rect x="339" y="462" width="94" height="42"/><text x="386" y="483">TBK1</text></g>
<g id="n-TNFRSF1B" class="E"><rect x="305" y="529" width="93" height="43"/><text x="348" y="550">TNFRSF1B</text></g>
<g id="n-FYN" class="E"><rect x="283" y="602" width="96" height="42"/><text x="331" y="623">FYN</text></g>
<g id="n-THBS1" class="E"><rect x="278" y="678" width="97" height="42"/><text x="327" y="699">THBS1</text></g>
<g id="n-CLEC7A" class="E"><rect x="291" y="753" width="96" height="41"/><text x="339" y="773">CLEC7A</text></g>
<g id="n-NLRP3" class="E"><rect x="318" y="820" width="98" height="44"/><text x="367" y="842">NLRP3</text></g>
<g id="n-C5AR1" class="E"><rect x="360" y="883" width="98" height="44" style="fill:#FA913F"/><text x="409" y="905">C5AR1</text></g>
<g id="n-LYN" class="F"><rect x="405" y="925" width="97" height="45"/><text x="453" y="947">LYN</text></g>
<g id="n-FPR1" class="F"><rect x="454" y="973" width="98" height="44"/><text x="503" y="995">FPR1</text></g>
<g id="n-PLEK" class="F"><rect x="531" y="1014" width="98" height="44"/><text x="580" y="1036">PLEK</text></g>
<g id="n-TNFAIP3" class="F"><rect x="613" y="899" width="104" height="47"/><text x="661" y="922">TNFAIP3</text></g>
<g id="n-CCR7" class="F"><rect x="759" y="834" width="105" height="48"/><text x="811" y="858">CCR7</text></g>
<g id="n-SCARB1" class="F"><rect x="817" y="745" width="107" height="48"/><text x="864" y="769">SCARB1</text></g>
<g id="n-IL7R" class="F"><rect x="833" y="628" width="109" height="49" style="fill:#F67E3A"/><text x="887" y="652" style="font-size:37px">IL7R</text></g>
<g id="n-NFKBIA" class="G"><rect x="553" y="442" width="116" height="53" fill="#E6552F"/><text x="606" y="468">NFKBIA</text></g>
<g id="n-HIF1A" class="G"><rect x="716" y="450" width="114" height="52" fill="#EA5B30"/><text x="773" y="476">HIF1A</text></g>
<g id="n-PTEN" class="G"><rect x="463" y="519" width="117" height="53" fill="#E75730"/><text x="521" y="545">PTEN</text></g>
<g id="n-PTGS2" class="G"><rect x="782" y="520" width="114" height="51" fill="#ED6633"/><text x="838" y="545">PTGS2</text></g>
<g id="n-IRF1" class="G"><rect x="413" y="627" width="119" height="51" fill="#E34F2D"/><text x="477" y="652">IRF1</text></g>
<g id="n-CXCR4" class="G"><rect x="441" y="725" width="122" height="53" fill="#DE452B"/><text x="496" y="751">CXCR4</text></g>
<g id="n-IL10"><rect x="492" y="807" width="141" height="61" fill="#B3002C"/><text x="562" y="837" style="font-size:56px">IL10</text></g>
</g>
<g id="nodes-right">
<g id="r-PPP1R15A" class="R"><rect x="2126" y="17" width="166" height="79"/><text x="2209" y="57">PPP1R15A</text></g>
<g id="r-LYN" class="R"><rect x="2314" y="17" width="166" height="79"/><text x="2397" y="57">LYN</text></g>
<g id="r-HLA-DRB1" class="R"><rect x="1946" y="78" width="166" height="79"/><text x="2027" y="117">HLA-DRB1</text></g>
<g id="r-IRF1" class="R"><rect x="2495" y="73" width="166" height="79"/><text x="2578" y="112">IRF1</text></g>
<g id="r-SOD2" class="R"><rect x="1789" y="178" width="166" height="79"/><text x="1872" y="218">SOD2</text></g>
<g id="r-CD58" class="R"><rect x="2650" y="178" width="166" height="79"/><text x="2733" y="218">CD58</text></g>
<g id="r-CCR7" class="R"><rect x="1671" y="326" width="166" height="79"/><text x="1754" y="366">CCR7</text></g>
<g id="r-NFKBIZ" class="R"><rect x="2768" y="326" width="166" height="79"/><text x="2851" y="366">NFKBIZ</text></g>
<g id="r-CD79A" class="R"><rect x="1603" y="501" width="166" height="79"/><text x="1686" y="541">CD79A</text></g>
<g id="r-IL10" class="R"><rect x="2836" y="501" width="166" height="79"/><text x="2919" y="541">IL10</text></g>
<g id="r-NLRP3" class="R"><rect x="1589" y="686" width="166" height="79"/><text x="1672" y="726">NLRP3</text></g>
<g id="r-TBK1" class="R"><rect x="2850" y="686" width="166" height="79"/><text x="2933" y="726">TBK1</text></g>
<g id="r-CXCR4" class="R"><rect x="1630" y="870" width="166" height="79"/><text x="1713" y="909">CXCR4</text></g>
<g id="r-EZR" class="R"><rect x="2809" y="870" width="166" height="79"/><text x="2892" y="909">EZR</text></g>
<g id="r-PTGS2" class="R"><rect x="1724" y="1034" width="166" height="79"/><text x="1807" y="1073">PTGS2</text></g>
<g id="r-PELI1" class="R"><rect x="2714" y="1034" width="166" height="79"/><text x="2797" y="1073">PELI1</text></g>
<g id="r-CFLAR" class="R"><rect x="1863" y="1161" width="166" height="79"/><text x="1946" y="1201">CFLAR</text></g>
<g id="r-MAP3K8" class="R"><rect x="2576" y="1161" width="166" height="79"/><text x="2659" y="1201">MAP3K8</text></g>
<g id="r-TNFRSF1B" class="R"><rect x="2033" y="1243" width="166" height="79"/><text x="2116" y="1283">TNFRSF1B</text></g>
<g id="r-NFKBIA" class="R"><rect x="2406" y="1243" width="166" height="79"/><text x="2489" y="1283">NFKBIA</text></g>
<g id="r-IL7R" class="R"><rect x="2220" y="1271" width="166" height="79"/><text x="2303" y="1311">IL7R</text></g>
<g id="r-TNFAIP3"><rect x="2178" y="626" width="247" height="111" fill="#FD8D3C" style="rx:10px"/><text x="2290" y="678" style="font-size:82px">TNFAIP3</text></g>
</g>
</svg>
